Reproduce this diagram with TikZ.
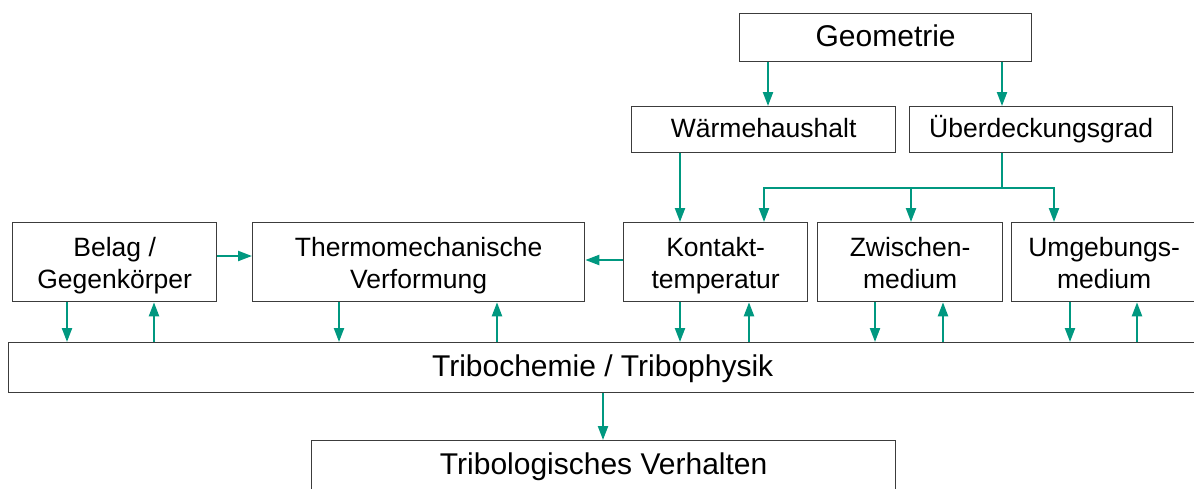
\documentclass[tikz,border=0pt]{standalone}
\usepackage{fontspec}
\setmainfont{Liberation Sans}
\usetikzlibrary{arrows.meta}
\definecolor{tealline}{RGB}{0,152,128}
\definecolor{framecol}{RGB}{60,60,60}
\begin{document}
\begin{tikzpicture}[x=1pt,y=-1pt,
  box/.style={draw=framecol, line width=1.3pt, fill=white, inner sep=0pt, anchor=north west, align=center},
  big/.style={font=\fontsize{30}{34}\selectfont, text height=24pt, text depth=6pt},
  mid/.style={font=\fontsize{26.5}{32}\selectfont, text height=21.2pt, text depth=5.3pt},
  two/.style={font=\fontsize{26.5}{32}\selectfont, text height=57.5pt, text depth=5.3pt},
  arr/.style={draw=tealline, line width=2.2pt, -{Triangle[length=14pt,width=10pt]}},
  ln/.style={draw=tealline, line width=2.2pt}]
\useasboundingbox (0,0) rectangle (1194,488);
\clip (0,0) rectangle (1194,488);

% boxes
\node[box,big,minimum width=292pt,minimum height=48pt] (geo) at (739,13) {Geometrie};
\node[box,mid,minimum width=264pt,minimum height=46pt] (waerme) at (631,106) {Wärmehaushalt};
\node[box,mid,minimum width=263pt,minimum height=46pt] (ueber) at (909,106) {Überdeckungsgrad};
\node[box,two,minimum width=204pt,minimum height=79pt] (belag) at (12,222) {Belag /\\Gegenkörper};
\node[box,two,minimum width=332pt,minimum height=79pt] (thermo) at (252,222) {Thermomechanische\\Verformung};
\node[box,two,minimum width=184pt,minimum height=79pt] (kontakt) at (623,222) {Kontakt-\\temperatur};
\node[box,two,minimum width=185pt,minimum height=79pt] (zwischen) at (817,222) {Zwischen-\\medium};
\node[box,two,minimum width=185pt,minimum height=79pt] (umgeb) at (1011,222) {Umgebungs-\\medium};
\node[box,big,minimum width=1188pt,minimum height=50pt] (tribo) at (8,342) {Tribochemie / Tribophysik};
\node[box,big,minimum width=584pt,minimum height=50pt] (verh) at (311,440) {Tribologisches Verhalten};

% helper coordinates
\coordinate (xg1) at (768,0);
\coordinate (xg2) at (1002,0);
\coordinate (xw) at (680,0);
\coordinate (xk) at (764,0);
\coordinate (xz) at (911,0);
\coordinate (xu) at (1054,0);
\coordinate (ybus) at (0,188);
\coordinate (yb) at (0,256);
\coordinate (yk) at (0,260);
\coordinate (xb1) at (67,0);
\coordinate (xb2) at (154,0);
\coordinate (xt1) at (339,0);
\coordinate (xt2) at (497,0);
\coordinate (xk1) at (680,0);
\coordinate (xk2) at (749,0);
\coordinate (xz1) at (875,0);
\coordinate (xz2) at (943,0);
\coordinate (xu1) at (1070,0);
\coordinate (xu2) at (1137,0);
\coordinate (xv) at (603,0);

% top connectors
\draw[arr] (geo.south -| xg1) -- (waerme.north -| xg1);
\draw[arr] (geo.south -| xg2) -- (ueber.north -| xg2);
\draw[arr] (waerme.south -| xw) -- (kontakt.north -| xw);
\draw[ln] (ueber.south -| xg2) -- (xg2 |- ybus);
\draw[arr] (xg2 |- ybus) -| (kontakt.north -| xk);
\draw[arr] (xg2 |- ybus) -| (umgeb.north -| xu);
\draw[arr] (xz |- ybus) -- (zwischen.north -| xz);

% horizontal connectors
\draw[arr] (belag.east |- yb) -- (thermo.west |- yb);
\draw[arr] (kontakt.west |- yk) -- (thermo.east |- yk);

% vertical pairs
\draw[arr] (belag.south -| xb1) -- (tribo.north -| xb1);
\draw[arr] (tribo.north -| xb2) -- (belag.south -| xb2);
\draw[arr] (thermo.south -| xt1) -- (tribo.north -| xt1);
\draw[arr] (tribo.north -| xt2) -- (thermo.south -| xt2);
\draw[arr] (kontakt.south -| xk1) -- (tribo.north -| xk1);
\draw[arr] (tribo.north -| xk2) -- (kontakt.south -| xk2);
\draw[arr] (zwischen.south -| xz1) -- (tribo.north -| xz1);
\draw[arr] (tribo.north -| xz2) -- (zwischen.south -| xz2);
\draw[arr] (umgeb.south -| xu1) -- (tribo.north -| xu1);
\draw[arr] (tribo.north -| xu2) -- (umgeb.south -| xu2);
\draw[arr] (tribo.south -| xv) -- (verh.north -| xv);
\end{tikzpicture}
\end{document}
